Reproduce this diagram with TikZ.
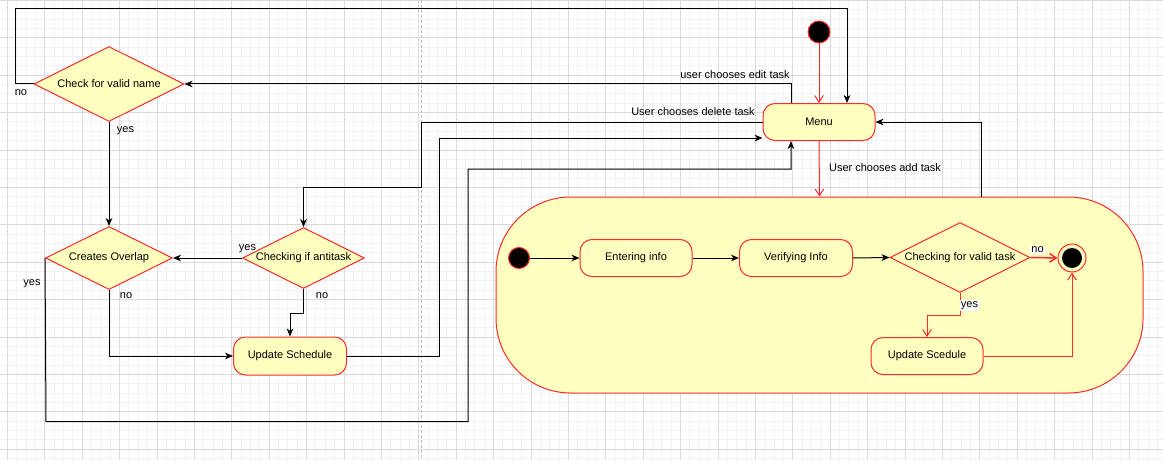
\documentclass[tikz,border=0pt]{standalone}
\usepackage{fontspec}
\setmainfont{Liberation Sans}
\usetikzlibrary{arrows.meta,shapes.geometric}
\newdimen\pxu \pxu=0.75pt
\definecolor{uyel}{HTML}{FFFFC0}
\definecolor{ured}{HTML}{FF2A2A}
\definecolor{gmin}{HTML}{F2F2F2}
\definecolor{gmaj}{HTML}{DADADA}
\definecolor{gsep}{HTML}{BEBEBE}
\begin{document}
\begin{tikzpicture}[x=0.75pt,y=-0.75pt,
  font=\fontsize{8.25}{10}\selectfont,
  statebox/.style={draw=ured, fill=uyel, rounded corners=9pt, line width=0.75pt, minimum height=37\pxu, inner sep=0pt},
  decbox/.style={draw=ured, fill=uyel, shape=diamond, inner sep=0pt, line width=0.75pt},
  startdot/.style={circle, draw=ured, fill=black, line width=0.75pt, minimum size=21\pxu, inner sep=0pt},
  blk/.style={draw=black, line width=0.75pt, -{Stealth[length=6pt,width=5pt,inset=1.8pt]}},
  rdarr/.style={draw=ured, line width=0.75pt, -{Straight Barb[length=5pt,width=6.5pt]}},
  lbl/.style={inner sep=0pt, text=black},
  wlbl/.style={inner sep=0.8pt, fill=white, text=black},
]
% background and grid
\fill[white] (0,0) rectangle (1163,460);
\useasboundingbox (0,0) rectangle (1163,460);
\foreach \i in {0,...,125} {\draw[gmin, line width=0.6pt] ({-2.05+9.35*\i},0) -- ({-2.05+9.35*\i},460);}
\foreach \i in {0,...,49} {\draw[gmin, line width=0.6pt] (0,{0.3+9.35*\i}) -- (1163,{0.3+9.35*\i});}
\foreach \i in {0,...,31} {\draw[gmaj, line width=0.6pt] ({7.3+37.4*\i},0) -- ({7.3+37.4*\i},460);}
\foreach \i in {0,...,12} {\draw[gmaj, line width=0.6pt] (0,{0.3+37.4*\i}) -- (1163,{0.3+37.4*\i});}
\draw[gsep, line width=1.1pt, dash pattern=on 3\pxu off 2\pxu] (421.5,0) -- (421.5,460);

% left part nodes
\node[decbox, minimum width=150\pxu, minimum height=75\pxu] (cvn) at (109,84) {\makebox[0pt]{Check for valid name}};
\node[decbox, minimum width=127\pxu, minimum height=63\pxu] (co) at (109,258) {\makebox[0pt]{Creates Overlap}};
\node[decbox, minimum width=122\pxu, minimum height=61\pxu] (cia) at (303.5,258) {\makebox[0pt]{Checking if antitask}};
\node[statebox, minimum width=113\pxu, minimum height=38\pxu] (us) at (290,356) {Update Schedule};

% right part nodes
\node[startdot, minimum size=22\pxu] (start) at (819,32) {};
\node[statebox, minimum width=112\pxu] (menu) at (819,122) {Menu};
\node[draw=ured, fill=uyel, line width=0.75pt, rounded corners=56pt, minimum width=647\pxu, minimum height=196\pxu, inner sep=0pt] (sub) at (819.5,295) {};
\node[startdot] (s2) at (519,258) {};
\node[statebox, minimum width=112\pxu] (ei) at (636,258) {Entering info};
\node[statebox, minimum width=113\pxu] (vi) at (796,258) {Verifying Info};
\node[decbox, minimum width=140\pxu, minimum height=70\pxu] (cvt) at (960,257.5) {\makebox[0pt]{Checking for valid task}};
\node[circle, draw=ured, fill=uyel, line width=0.75pt, minimum size=28\pxu, inner sep=0pt] (fin) at (1072,258) {};
\node[circle, fill=black, minimum size=20\pxu, inner sep=0pt] (fincore) at (fin) {};
\node[statebox, minimum width=112\pxu] (usc) at (927,356) {Update Scedule};

% left connectors
\draw[blk] (cvn.west) -- (15,84) -- (15,9) -- (847,9) -- ([xshift=28\pxu]menu.north);
\draw[blk] (cvn.south) -- (co.north);
\draw[blk] (cia.west) -- (co.east);
\draw[blk] (cia.south) -- (303.5,313) -- (290,313) -- (us.north);
\draw[blk] (co.south) |- (us.west);
\draw[blk] (co.west) -- (46,421.7) -- (468,421.7) -- (468,169) -- (791,169) -- ([xshift=-28\pxu]menu.south);
\draw[blk] (us.east) -- (439.7,356) -- (439.7,138) -- ([yshift=-16\pxu]menu.west);
\draw[blk] (menu.west) -- (421.5,122) -- (421.5,187.5) -- (303.5,187.5) -- (cia.north);
\draw[blk] ([xshift=-28\pxu]menu.north) -- (791,84) -- (cvn.east);
\draw[blk] ([xshift=161.5\pxu]sub.north) |- (menu.east);

% red connectors
\draw[rdarr] (start.south) -- (menu.north);
\draw[rdarr] (menu.south) -- (sub.north);
\draw[rdarr, line width=1.1pt] (cvt.east) -- (fin.west);
\draw[rdarr] (cvt.south) -- (960,315) -- (927,315) -- (usc.north);
\draw[rdarr] (usc.east) -| (fin.south);

% inner black connectors
\draw[blk] (s2.east) -- (ei.west);
\draw[blk] (ei.east) -- (vi.west);
\draw[blk] (vi.east) -- (cvt.west);

% labels
\node[lbl] (l1) at (21,93) {no};
\node[lbl] (l2) at (125.5,131) {yes};
\node[lbl] (l3) at (32,284) {yes};
\node[lbl] (l4) at (126,295.5) {no};
\node[lbl] (l5) at (247.5,249) {yes};
\node[lbl] (l6) at (322,295.5) {no};
\node[lbl] (l7) at (735,75) {user chooses edit task};
\node[lbl] (l8) at (693,112) {User chooses delete task};
\node[lbl] (l9) at (885,168) {User chooses add task};
\node[wlbl] (l10) at (1037.6,250) {no};
\node[wlbl] (l11) at (969.5,305.5) {yes};
\end{tikzpicture}
\end{document}
